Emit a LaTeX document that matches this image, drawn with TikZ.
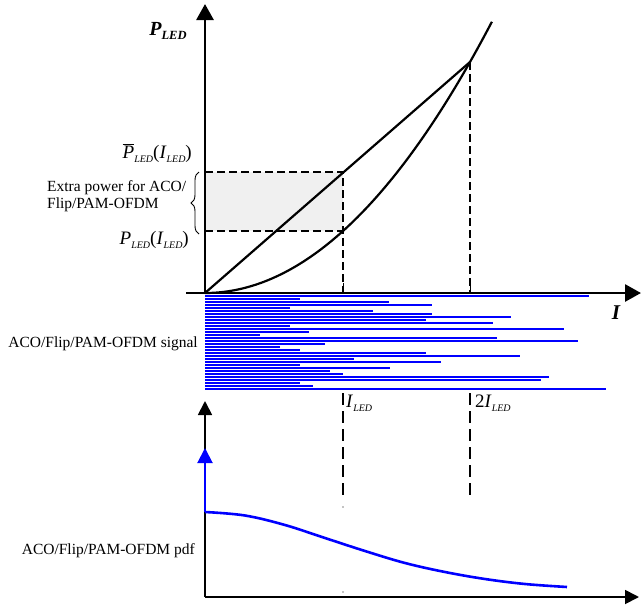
\documentclass[tikz,border=0pt]{standalone}
\usepackage{fontspec}
\setmainfont{Liberation Serif}
\usetikzlibrary{arrows.meta,decorations.pathreplacing}
\newcommand\sbs[1]{\raisebox{-0.45ex}{\fontsize{10}{10}\selectfont\itshape #1}}
\definecolor{sigblue}{RGB}{0,0,255}
\begin{document}
\begin{tikzpicture}[x=1pt,y=-1pt,
  bigaxis/.style={line width=2.8pt,-{Triangle[length=16pt,width=17pt]}},
  smallaxis/.style={line width=1.8pt,-{Triangle[length=14pt,width=14pt]}},
  curve/.style={line width=2.2pt},
  guide/.style={line width=1.2pt,dash pattern=on 8pt off 4pt},
  guidelow/.style={line width=1.3pt,dash pattern=on 12pt off 6pt},
  bar/.style={line width=2.8pt,sigblue},
  txt/.style={inner sep=0pt,font=\fontsize{15.5}{17}\selectfont},
  lab/.style={inner sep=0pt,font=\fontsize{19}{19}\selectfont}]
\useasboundingbox (0,0) rectangle (641,606);
% named points
\coordinate (O) at (205,293);
\coordinate (Ytop) at (205,4);
\coordinate (Xl) at (186,293);
\coordinate (Xr) at (641,293);
\coordinate (A) at (470,62);
\coordinate (B) at (343,172);
\coordinate (C) at (343,231);
\coordinate (Bl) at (205,172);
\coordinate (Cl) at (205,231);
\coordinate (Bx) at (343,293);
\coordinate (Ax) at (470,293);
% shaded region
\fill[gray!12] (Bl) rectangle (C);
% signal bars
\foreach \yy/\xe in {296/589,299/300,302/389,305/432,308/290,311/373,314/432,317/511,
  320/426,323/493,326/290,329/564,332/309,335/260,338/497,341/578,344/325,347/280,
  350/300,353/426,356/520,359/354,362/441,365/300,368/390,371/330,374/343,377/549,
  380/541,383/300,386/313,389/606}
  \draw[bar] (205,\yy) -- (\xe,\yy);
% guides
\draw[guide] (Bl) -- (B) -- (Bx);
\draw[guide] (Cl) -- (C);
\draw[guide] (A) -- (Ax);
% ticks
\draw[line width=1pt] (343,283) -- (Bx);
\draw[line width=1pt] (470,283) -- (Ax);
% axes
\draw[bigaxis] (O) -- (Ytop);
\draw[bigaxis] (Xl) -- (Xr);
% line and curve
\draw[curve] (O) -- (A);
\draw[curve] plot[domain=0:2.87,samples=80] ({205+100*\x},{293-(32.188*\x*\x+0.267*\x*\x*\x)});
% labels
\node[inner sep=0pt,font=\fontsize{20}{20}\selectfont\bfseries\itshape] (plab) at (168,31) {P\raisebox{-0.35ex}{\fontsize{12.5}{12}\selectfont LED}};
\node[lab,anchor=east] (pbar) at (192,153) {$\overline{\mbox{\itshape P}}$\sbs{LED}(\textit{I}\sbs{LED})};
\node[lab,anchor=east] (plow) at (189,240) {\textit{P}\sbs{LED}(\textit{I}\sbs{LED})};
\draw[line width=0.9pt,decorate,decoration={brace,amplitude=8pt}] (199,234) -- (199,172);
\node[txt,anchor=west,align=left] (extra) at (47,196) {Extra power for ACO/\\Flip/PAM-OFDM};
\node[inner sep=0pt,font=\fontsize{21}{21}\selectfont\bfseries\itshape] (ilab) at (616,313) {I};
\node[txt,anchor=east] (sig) at (198,344) {ACO/Flip/PAM-OFDM signal};
\node[lab,anchor=west] (i1) at (346,403) {\textit{I}\sbs{LED}};
\node[lab,anchor=west] (i2) at (475,403) {2\textit{I}\sbs{LED}};
% lower plot
\coordinate (O2) at (205,597);
\coordinate (Y2) at (205,401);
\coordinate (X2) at (639,597);
\coordinate (D0) at (205,512);
\coordinate (D1) at (205,448);
\draw[guidelow] (343,393) -- (343,500);
\draw[guidelow] (470,393) -- (470,500);
\fill (343,507) circle (0.7);
\fill (343,592) circle (0.7);
\draw[smallaxis] (O2) -- (Y2);
\draw[smallaxis] (O2) -- (X2);
\draw[line width=2pt,sigblue,-{Triangle[length=15pt,width=15pt]}] (D0) -- (D1);
\draw[line width=2.6pt,sigblue] plot[smooth,tension=0.6] coordinates
  {(205,512) (245,515.5) (285,525) (325,538) (365,551) (405,563) (445,572) (485,579) (525,584) (567,587)};
\node[txt,anchor=east] (pdf) at (195,551) {ACO/Flip/PAM-OFDM pdf};
\end{tikzpicture}
\end{document}
